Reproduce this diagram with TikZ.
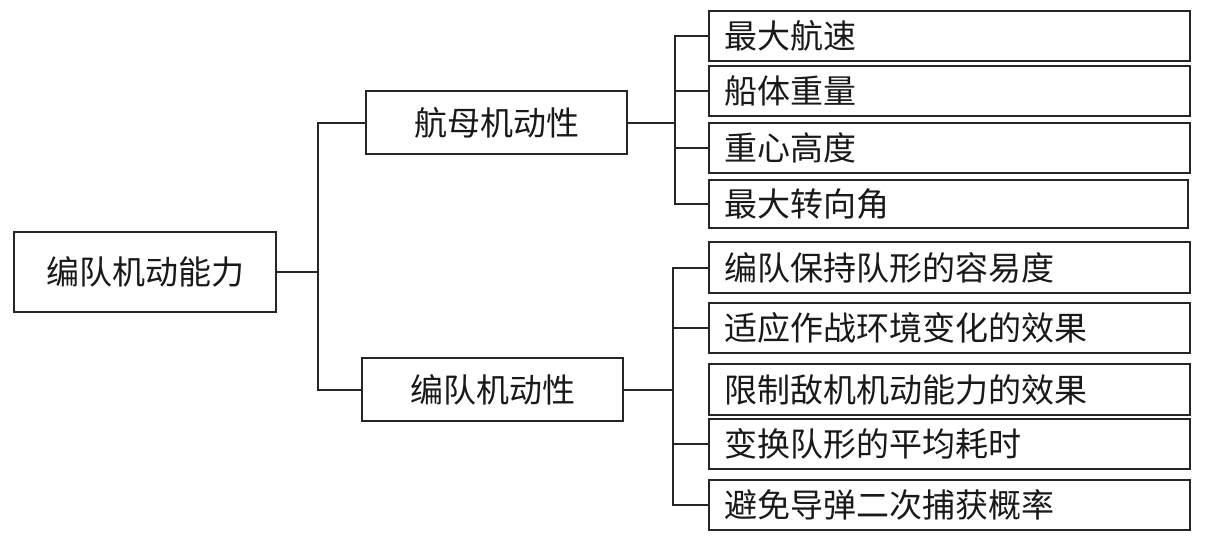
\documentclass[tikz,border=0pt]{standalone}
\usepackage{fontspec}
\newfontfamily\cjk{Noto Sans CJK SC}
\definecolor{linec}{HTML}{262626}
\begin{document}
\begin{tikzpicture}[x=1pt,y=-1pt,
  conn/.style={draw=linec, line width=2pt},
  box/.style={draw=linec, line width=2.2pt, fill=white, inner sep=0pt,
    font=\cjk\fontsize{33}{35}\selectfont, text=black!90},
  midbox/.style={box, minimum width=261pt, minimum height=63pt},
  leaf/.style={box, anchor=west, text width=451pt, inner xsep=15pt, inner ysep=0pt,
    align=left, minimum height=50pt},
]
\useasboundingbox (0,0) rectangle (1205,546);

% root
\node[box, minimum width=262pt, minimum height=80pt] (root) at (145,272) {编队机动能力};

% middle level
\node[midbox] (m1) at (496.5,122.5) {航母机动性};
\node[midbox] (m2) at (492.5,389.5) {编队机动性};

% leaves of m1
\node[leaf] (a1) at (708,36) {最大航速};
\node[leaf] (a2) at (708,91) {船体重量};
\node[leaf] (a3) at (708,148) {重心高度};
\node[leaf, text width=449pt, minimum height=48pt] (a4) at (708,204) {最大转向角};

% leaves of m2
\node[leaf, minimum height=51pt] (b1) at (708,267.5) {编队保持队形的容易度};
\node[leaf] (b2) at (708,328) {适应作战环境变化的效果};
\node[leaf, minimum height=51pt] (b3) at (708,389.5) {限制敌机机动能力的效果};
\node[leaf] (b4) at (708,444) {变换队形的平均耗时};
\node[leaf] (b5) at (708,505) {避免导弹二次捕获概率};

% junctions
\coordinate (j1) at (318,272);
\coordinate (j2) at (675,122.5);
\coordinate (j3) at (673,389.5);

% connectors root -> middle
\draw[conn] (root.east) -- (j1);
\draw[conn] (m1.west) -| (j1) |- (m2.west);

% connectors m1 -> leaves
\draw[conn] (m1.east) -- (j2);
\draw[conn] (a1.west) -| (j2) |- (a4.west);
\draw[conn] (a2.west) -- (a2.west -| j2);
\draw[conn] (a3.west) -- (a3.west -| j2);

% connectors m2 -> leaves
\draw[conn] (m2.east) -- (j3);
\draw[conn] (b1.west) -| (j3) |- (b5.west);
\draw[conn] (b2.west) -- (b2.west -| j3);
\draw[conn] (b4.west) -- (b4.west -| j3);
\end{tikzpicture}
\end{document}
